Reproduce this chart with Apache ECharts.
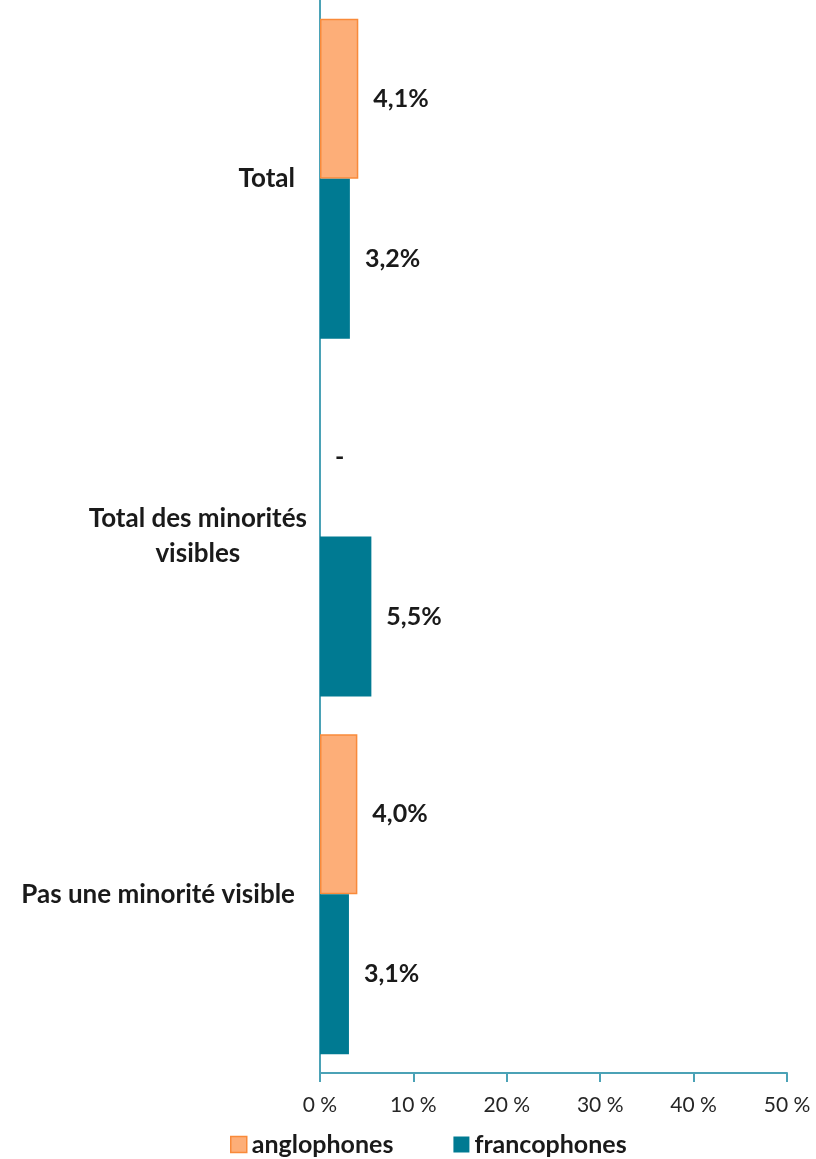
<!DOCTYPE html>
<html>
<head>
<meta charset="utf-8">
<script src="https://cdn.jsdelivr.net/npm/echarts@6/dist/echarts.min.js"></script>
<style>
  html, body { margin: 0; padding: 0; background: #fff; }
  #chart { width: 816px; height: 1159px; }
</style>
</head>
<body>
<div id="chart"></div>
<script>
// categories listed bottom to top (ECharts category y axis starts at the bottom)
const categories = ['Pas une minorité visible', 'Total des minorités visibles', 'Total']
const anglophones = [4.0, null, 4.1]
const francophones = [3.1, 5.5, 3.2]
const xTicks = [0, 10, 20, 30, 40, 50]

const fontFamily = 'Lato, "Open Sans", sans-serif'
const orangeFill = '#fdae78'
const orangeBorder = '#f98a3a'
const teal = '#007a92'
const axisColor = '#4ba2b6'
const textColor = '#1a1a1a'

const fmtPct = (v) => v.toFixed(1).replace('.', ',') + '%'

const labelStyle = {
  show: true,
  position: 'right',
  distance: 15,
  fontFamily,
  fontSize: 25,
  fontWeight: 'bold',
  color: textColor,
}

const chart = echarts.init(document.getElementById('chart'))

chart.setOption({
  animation: false,
  backgroundColor: '#fff',
  grid: { left: 320, right: 29, top: -9, bottom: 86, containLabel: false },
  legend: {
    left: 225,
    top: 1127,
    itemWidth: 16,
    itemHeight: 16,
    itemGap: 60,
    textStyle: { fontFamily, fontSize: 25, fontWeight: 'bold', color: textColor },
    data: [
      { name: 'anglophones', icon: 'rect', itemStyle: { color: orangeFill, borderColor: orangeBorder, borderWidth: 1.5 } },
      { name: 'francophones', icon: 'rect' },
    ],
  },
  xAxis: {
    type: 'value',
    min: xTicks[0],
    max: xTicks[xTicks.length - 1],
    interval: 10,
    axisLine: { show: true, lineStyle: { color: axisColor, width: 2 } },
    axisTick: { show: true, length: 9, lineStyle: { color: axisColor, width: 2 } },
    splitLine: { show: false },
    axisLabel: {
      margin: 22,
      fontFamily,
      fontSize: 21,
      color: '#262626',
      formatter: (v) => v + ' %',
    },
  },
  yAxis: {
    type: 'category',
    data: categories.map((c) =>
      c === 'Total des minorités visibles'
        ? { value: c, textStyle: { padding: [0, -12, 0, 0] } }
        : c
    ),
    axisLine: { show: true, onZero: false, lineStyle: { color: axisColor, width: 2 } },
    axisTick: { show: false },
    axisLabel: {
      margin: 25,
      fontFamily,
      fontSize: 26,
      fontWeight: 'bold',
      color: textColor,
      lineHeight: 35,
      formatter: (v) =>
        v === 'Total des minorités visibles'
          ? '{m|Total des minorités}\n{m|visibles}'
          : v,
      rich: {
        m: { align: 'center', fontFamily, fontSize: 26, fontWeight: 'bold', color: textColor, lineHeight: 35 },
      },
    },
  },
  series: [
    {
      name: 'anglophones',
      type: 'bar',
      barWidth: 160,
      barGap: '0%',
      itemStyle: { color: orangeFill, borderColor: orangeBorder, borderWidth: 1.5 },
      label: { ...labelStyle, formatter: (p) => (anglophones[p.dataIndex] == null ? '-' : fmtPct(p.value)) },
      data: anglophones.map((v) =>
        v == null ? { value: 0, itemStyle: { borderWidth: 0 } } : v
      ),
    },
    {
      name: 'francophones',
      type: 'bar',
      barWidth: 160,
      barGap: '0%',
      itemStyle: { color: teal },
      label: { ...labelStyle, formatter: (p) => fmtPct(p.value) },
      data: francophones,
    },
  ],
})
</script>
</body>
</html>
